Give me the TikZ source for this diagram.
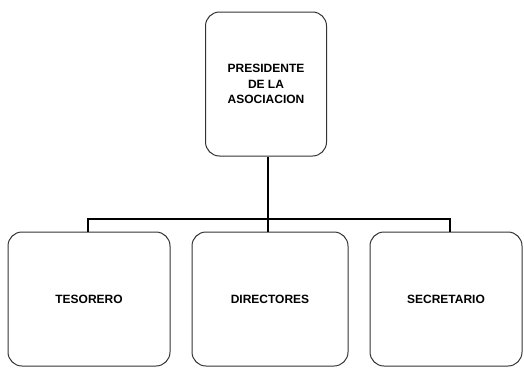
\documentclass[tikz,border=0pt]{standalone}
\usepackage{fontspec}
\setmainfont{Liberation Sans}
\begin{document}
\begin{tikzpicture}[x=1pt,y=1pt,
  box/.style={draw=black!80,line width=1pt,rounded corners=14pt,fill=white,inner sep=0pt,align=center,
    font=\fontsize{12}{15.5}\selectfont\bfseries},
  conn/.style={draw=black,line width=2.8pt}]
\useasboundingbox (0,0) rectangle (524,368);
\node[box,minimum width=121pt,minimum height=144pt] (top) at (266,284) {PRESIDENTE\\DE LA\\ASOCIACION};
\node[box,minimum width=162pt,minimum height=134pt] (t1) at (89,69) {TESORERO};
\node[box,minimum width=156pt,minimum height=134pt] (t2) at (270,69) {DIRECTORES};
\node[box,minimum width=152pt,minimum height=134pt] (t3) at (446,69) {SECRETARIO};
\coordinate (bus) at (268,149);
\draw[conn] (bus |- top.south) -- (bus |- t2.north);
\draw[conn] ([xshift=-1pt]t1.north) |- (bus) -| ([xshift=4pt]t3.north);
\end{tikzpicture}
\end{document}
